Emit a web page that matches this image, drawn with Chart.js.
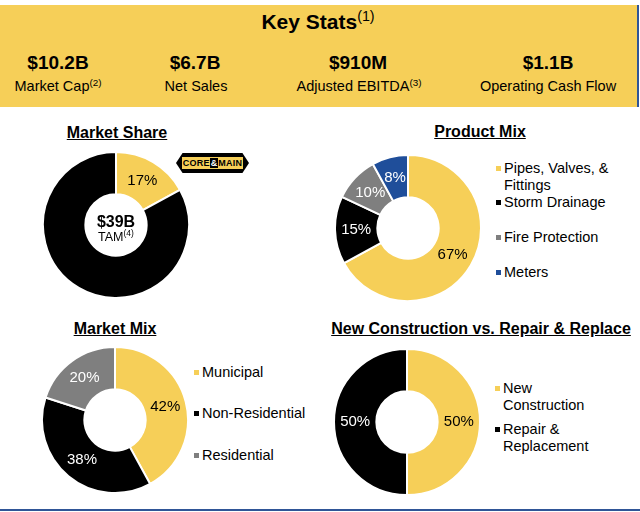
<!DOCTYPE html>
<html>
<head>
<meta charset="utf-8">
<script src="https://cdn.jsdelivr.net/npm/chart.js@4.4.1/dist/chart.umd.min.js"></script>
<style>
  body { margin: 0; width: 640px; height: 512px; background: #fff; position: relative; overflow: hidden;
         font-family: "Liberation Sans", Arial, sans-serif; color: #000; }
  .abs { position: absolute; transform: translate(-50%, -50%); white-space: nowrap; }
  #banner { position: absolute; left: 0; top: 5px; width: 637px; height: 102px; background: #F6CF58;
            border-right: 2px solid #2F5597; }
  .big { font-weight: bold; font-size: 19px; }
  .sub { font-size: 14.5px; }
  sup { font-size: 68%; font-weight: normal; vertical-align: 0.55em; line-height: 0; }
  .title { font-weight: bold; font-size: 16px; text-decoration: underline; }
  canvas { position: absolute; }
  .legend { position: absolute; font-size: 14.5px; line-height: 17px; }
  .legend div { position: absolute; white-space: nowrap; padding-left: 8px; }
  .legend i { position: absolute; left: 0; top: 6px; width: 5px; height: 5px; }
  #logo { position: absolute; left: 176px; top: 153px; width: 73px; height: 20px; background: #000;
          clip-path: polygon(9% 0, 91% 0, 100% 50%, 91% 100%, 9% 100%, 0 50%); }
  #logo .in { position: absolute; left: 6px; right: 6px; top: 4px; bottom: 4px; background: #F6CF58;
              font: bold 9px/12px "Liberation Sans", Arial, sans-serif; text-align: center; letter-spacing: 0.2px; }
  #logo .amp { background: #000; color: #fff; padding: 0 1px; }
  #bottomline { position: absolute; left: 0; top: 509px; width: 640px; height: 2px; background: #2F5597; }
</style>
</head>
<body>
<div id="banner"></div>
<div class="abs" style="left:318px; top:22px; font-weight:bold; font-size:21px;">Key Stats<sup>(1)</sup></div>
<div class="abs big" style="left:58px; top:63px;">$10.2B</div>
<div class="abs big" style="left:195px; top:63px;">$6.7B</div>
<div class="abs big" style="left:358px; top:63px;">$910M</div>
<div class="abs big" style="left:548px; top:63px;">$1.1B</div>
<div class="abs sub" style="left:58px; top:86px;">Market Cap<sup>(2)</sup></div>
<div class="abs sub" style="left:196px; top:86px;">Net Sales</div>
<div class="abs sub" style="left:359px; top:86px;">Adjusted EBITDA<sup>(3)</sup></div>
<div class="abs sub" style="left:548px; top:86px;">Operating Cash Flow</div>

<div class="abs title" style="left:117px; top:133px;">Market Share</div>
<div class="abs title" style="left:480px; top:132px;">Product Mix</div>
<div class="abs title" style="left:115px; top:329px;">Market Mix</div>
<div class="abs title" style="left:481px; top:329px;">New Construction vs. Repair &amp; Replace</div>

<div id="logo"><div class="in">CORE<span class="amp">&amp;</span>MAIN</div></div>

<canvas id="shareChart" width="148" height="148" style="left:42px; top:151px;"></canvas>
<canvas id="productChart" width="148" height="148" style="left:334px; top:154px;"></canvas>
<canvas id="marketChart" width="148" height="148" style="left:41px; top:346px;"></canvas>
<canvas id="constructionChart" width="148" height="148" style="left:333px; top:348px;"></canvas>

<div class="abs" style="left:116px; top:222px; font-weight:bold; font-size:16px;">$39B</div>
<div class="abs" style="left:116px; top:237px; font-size:12.5px;">TAM<sup>(4)</sup></div>

<div class="legend" id="productLegend" style="left:496px; top:0;"></div>
<div class="legend" id="marketLegend" style="left:194px; top:0;"></div>
<div class="legend" id="constructionLegend" style="left:495px; top:0;"></div>

<div id="bottomline"></div>

<script>
const YELLOW = '#F6CF58';
const BLACK = '#000000';
const GRAY = '#7F7F7F';
const BLUE = '#1F4E9A';

// Market share (Core & Main vs rest of TAM)
const shareLabels = ['Core & Main', 'Rest of market'];
const shareValues = [17, 83];

// Product mix
const productLabels = [['Pipes, Valves, &', 'Fittings'], ['Storm Drainage'], ['Fire Protection'], ['Meters']];
const productValues = [67, 15, 10, 8];

// Market mix
const marketLabels = [['Municipal'], ['Non-Residential'], ['Residential']];
const marketValues = [42, 38, 20];

// New construction vs repair & replace
const constructionLabels = [['New', 'Construction'], ['Repair &', 'Replacement']];
const constructionValues = [50, 50];

// percent labels drawn at each arc's centre
const sliceLabels = {
    id: 'sliceLabels',
    afterDatasetsDraw(chart, args, opts) {
        const ctx = chart.ctx;
        const values = chart.data.datasets[0].data;
        ctx.save();
        ctx.font = '15px "Liberation Sans", Arial, sans-serif';
        ctx.textAlign = 'center';
        ctx.textBaseline = 'middle';
        chart.getDatasetMeta(0).data.forEach((arc, i) => {
            const color = opts.colors[i];
            if (!color) return;
            const p = arc.tooltipPosition();
            ctx.fillStyle = color;
            ctx.fillText(values[i] + '%', p.x, p.y);
        });
        ctx.restore();
    }
};

function createDonut(id, labels, values, colors, textColors) {
    const ctx = document.getElementById(id).getContext('2d');
    new Chart(ctx, {
        type: 'doughnut',
        data: {
            labels: labels.map(l => l.join ? l.join(' ') : l),
            datasets: [{
                data: values,
                backgroundColor: colors,
                borderColor: '#ffffff',
                borderWidth: 2
            }]
        },
        options: {
            responsive: false,
            animation: false,
            events: [],
            cutout: '42%',
            layout: { padding: 0 },
            plugins: {
                legend: { display: false },
                tooltip: { enabled: false },
                sliceLabels: { colors: textColors }
            }
        },
        plugins: [sliceLabels]
    });
}

function createLegend(id, labels, colors, tops) {
    const box = document.getElementById(id);
    labels.forEach((lines, i) => {
        const item = document.createElement('div');
        item.style.top = tops[i] + 'px';
        item.innerHTML = '<i style="background:' + colors[i] + '"></i>' + lines.join('<br>');
        box.appendChild(item);
    });
}

createDonut('shareChart', shareLabels, shareValues, [YELLOW, BLACK], [BLACK, null]);

const productColors = [YELLOW, BLACK, GRAY, BLUE];
createDonut('productChart', productLabels, productValues, productColors, [BLACK, '#fff', '#fff', '#fff']);
createLegend('productLegend', productLabels, productColors, [160, 194, 229, 264]);

const marketColors = [YELLOW, BLACK, GRAY];
createDonut('marketChart', marketLabels, marketValues, marketColors, [BLACK, '#fff', '#fff']);
createLegend('marketLegend', marketLabels, marketColors, [364, 405, 447]);

const constructionColors = [YELLOW, BLACK];
createDonut('constructionChart', constructionLabels, constructionValues, constructionColors, [BLACK, '#fff']);
createLegend('constructionLegend', constructionLabels, constructionColors, [380, 421]);
</script>
</body>
</html>
